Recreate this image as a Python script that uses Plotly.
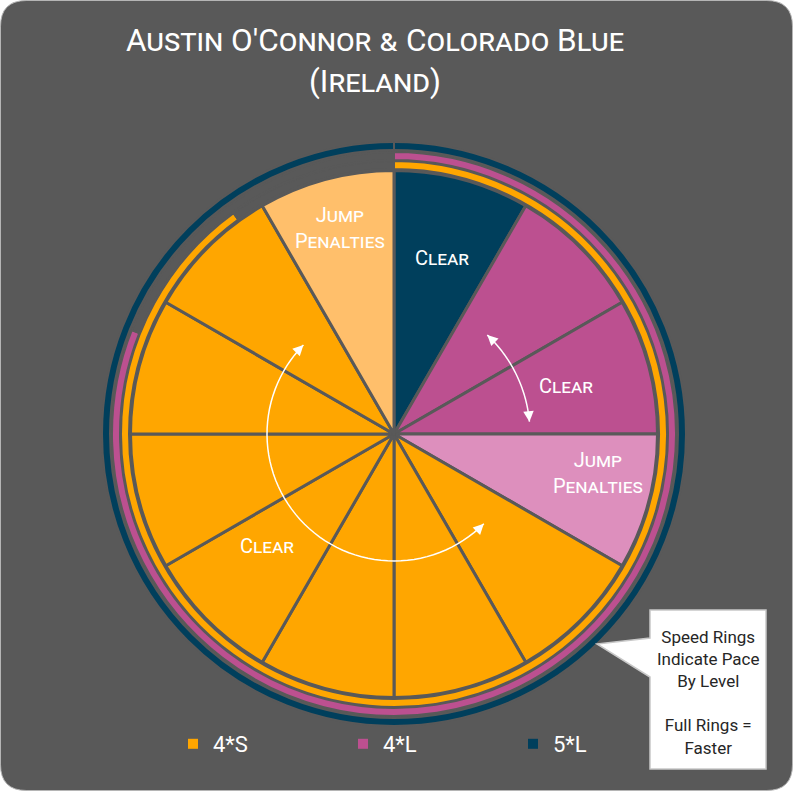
import math
import plotly.graph_objects as go

# ---------------- data ----------------
rounds = [f"Round {i}" for i in range(1, 13)]
levels = ["5*L", "4*L", "4*L", "4*L",
          "4*S", "4*S", "4*S", "4*S", "4*S", "4*S", "4*S", "4*S"]
results = ["Clear", "Clear", "Clear", "Jump Penalties",
           "Clear", "Clear", "Clear", "Clear", "Clear", "Clear", "Clear",
           "Jump Penalties"]
slice_values = [1] * 12

ring_levels = ["4*S", "4*L", "5*L"]          # inner -> outer
ring_pace = [0.9, 0.81, 1.0]                 # share of a full speed ring

legend_levels = ["4*S", "4*L", "5*L"]

title_text = "Austin O'Connor & Colorado Blue<br>(Ireland)"
callout_text = "Speed Rings<br>Indicate Pace<br>By Level<br> <br>Full Rings =<br>Faster"

# ---------------- style ----------------
W, H = 793, 791
BG = "#595959"
FONT = "Roboto"
LEVEL_COLOR = {"4*S": "#ffa600", "4*L": "#bc5090", "5*L": "#003f5c"}
PENALTY_COLOR = {"4*S": "#ffbf6b", "4*L": "#dd8fbd"}

CX, CY = 394, 434          # pie centre in pixels
R_PIE = 263.5
RING_R = [(265, 273), (274, 282), (284, 292)]


def px(x):
    return x / W


def py(y):
    return 1 - y / H


def domain(r):
    return dict(x=[px(CX - r), px(CX + r)], y=[py(CY + r), py(CY - r)])


slice_colors = [PENALTY_COLOR[l] if res == "Jump Penalties" else LEVEL_COLOR[l]
                for l, res in zip(levels, results)]

fig = go.Figure()

fig.add_trace(go.Pie(
    labels=rounds, values=slice_values, sort=False, direction="clockwise",
    rotation=0, textinfo="none", showlegend=False, hoverinfo="label+text",
    text=[f"{l} – {r}" for l, r in zip(levels, results)],
    marker=dict(colors=slice_colors, line=dict(color=BG, width=3)),
    domain=domain(R_PIE),
))

for lvl, pace, (ri, ro) in zip(ring_levels, ring_pace, RING_R):
    fig.add_trace(go.Pie(
        labels=[f"{lvl} pace", f"{lvl} gap"], values=[pace, 1 - pace],
        sort=False, direction="clockwise", rotation=0, hole=ri / ro,
        textinfo="none", showlegend=False, hoverinfo="label+percent",
        marker=dict(colors=[LEVEL_COLOR[lvl], "rgba(0,0,0,0)"],
                    line=dict(color=BG, width=2)),
        domain=domain(ro),
    ))

# legend entries
for lvl in legend_levels:
    fig.add_trace(go.Scatter(
        x=[None], y=[None], mode="markers", name=lvl,
        marker=dict(symbol="square", size=10, color=LEVEL_COLOR[lvl]),
    ))

shapes = []
# rounded dark background
rc = 26
x0, y0, x1, y1 = 0.5, 0.5, W - 0.5, H - 0.5
bg_path = (f"M {px(x0 + rc)},{py(y0)} L {px(x1 - rc)},{py(y0)} "
           f"Q {px(x1)},{py(y0)} {px(x1)},{py(y0 + rc)} "
           f"L {px(x1)},{py(y1 - rc)} Q {px(x1)},{py(y1)} {px(x1 - rc)},{py(y1)} "
           f"L {px(x0 + rc)},{py(y1)} Q {px(x0)},{py(y1)} {px(x0)},{py(y1 - rc)} "
           f"L {px(x0)},{py(y0 + rc)} Q {px(x0)},{py(y0)} {px(x0 + rc)},{py(y0)} Z")
shapes.append(dict(type="path", path=bg_path, xref="paper", yref="paper",
                   fillcolor=BG, line=dict(color="#b5b5b5", width=1), layer="below"))

# callout box
cb = [(650, 610), (766, 610), (766, 769), (650, 769), (650, 677), (597, 644), (650, 638)]
cb_path = "M " + " L ".join(f"{px(a)},{py(b)}" for a, b in cb) + " Z"
shapes.append(dict(type="path", path=cb_path, xref="paper", yref="paper",
                   fillcolor="white", line=dict(color="#c8c8c8", width=1.5), layer="above"))


# curved double arrows (clockwise angle from 12 o'clock)
def arc_pts(r, a0, a1, n=60):
    pts = []
    for i in range(n + 1):
        a = math.radians(a0 + (a1 - a0) * i / n)
        pts.append((CX + r * math.sin(a), CY - r * math.cos(a)))
    return pts


annotations = []


def add_arc_arrow(r, a0, a1):
    pts = arc_pts(r, a0, a1)
    path = "M " + " L ".join(f"{px(a)},{py(b)}" for a, b in pts)
    shapes.append(dict(type="path", path=path, xref="paper", yref="paper",
                       line=dict(color="white", width=1.5), layer="above"))
    for a_end, sgn in ((a0, -1 if a1 > a0 else 1), (a1, 1 if a1 > a0 else -1)):
        t = math.radians(a_end)
        tipx, tipy = CX + r * math.sin(t), CY - r * math.cos(t)
        dx, dy = sgn * math.cos(t), sgn * math.sin(t)
        L = 8
        annotations.append(dict(
            x=px(tipx), y=py(tipy), xref="paper", yref="paper", text="",
            showarrow=True, arrowhead=2, arrowsize=1.4, arrowwidth=1.5,
            arrowcolor="white", ax=-dx * L, ay=-dy * L, standoff=0))


add_arc_arrow(127, 135, 314.5)
add_arc_arrow(136, 43.3, 84.8)

# slice group labels
label_specs = [
    ("Clear", 442, 258),
    ("Jump<br>Penalties", 340, 228),
    ("Clear", 566, 386),
    ("Jump<br>Penalties", 598, 473),
    ("Clear", 267, 546),
]
for txt, lx, ly in label_specs:
    annotations.append(dict(
        x=px(lx), y=py(ly), xref="paper", yref="paper", text=txt, showarrow=False,
        font=dict(family=FONT, size=20, color="white", variant="small-caps"),
        align="center", xanchor="center", yanchor="middle"))

annotations.append(dict(
    x=px(708), y=py(692), xref="paper", yref="paper", text=callout_text,
    showarrow=False, align="center", xanchor="center", yanchor="middle",
    font=dict(family=FONT, size=17, color="#262626")))

fig.update_layout(
    width=W, height=H,
    margin=dict(l=0, r=0, t=0, b=0),
    paper_bgcolor="white", plot_bgcolor="rgba(0,0,0,0)",
    title=dict(text=title_text, x=px(375), xanchor="center", y=py(51),
               yanchor="middle", yref="container",
               font=dict(family=FONT, size=31.5, color="white", variant="small-caps")),
    xaxis=dict(visible=False), yaxis=dict(visible=False),
    showlegend=True,
    legend=dict(orientation="h", x=px(173), xanchor="left", y=py(744), yanchor="middle",
                entrywidth=125, entrywidthmode="pixels",
                font=dict(family=FONT, size=22, color="white"),
                bgcolor="rgba(0,0,0,0)", itemclick=False, itemdoubleclick=False),
    shapes=shapes,
    annotations=annotations,
)

fig.write_html("out.html", config={"displayModeBar": False},
               post_script="document.body.style.margin='0';")
